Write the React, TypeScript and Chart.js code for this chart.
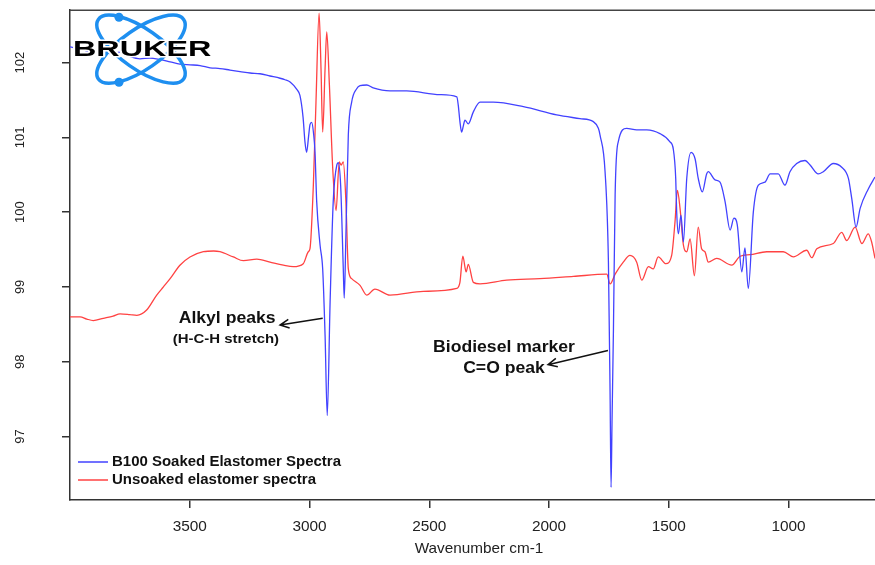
import React, { useEffect, useRef } from "react";
import { Chart, registerables } from "chart.js";
Chart.register(...registerables);

const seriesLabels = ["B100 Soaked Elastomer Spectra", "Unsoaked elastomer spectra"];
const seriesColors = ["#4242ff", "#ff4242"];

const blueWavenumbers = [
  4000, 3958, 3896, 3875, 3833, 3791, 3749, 3708, 3666, 3624, 3582, 3541, 3499, 3457, 3415, 3374, 3332, 3290,
  3248, 3207, 3165, 3123, 3102, 3081, 3053, 3040, 3027, 3019, 3012, 3004, 2998, 2991, 2983, 2977, 2970, 2956,
  2945, 2935, 2926, 2914, 2901, 2886, 2880, 2870, 2859, 2855, 2848, 2838, 2824, 2803, 2789, 2761, 2734, 2664,
  2594, 2455, 2385, 2379, 2372, 2365, 2358, 2351, 2337, 2316, 2288, 2233, 2107, 1968, 1871, 1815, 1794, 1787,
  1766, 1752, 1745, 1741, 1737, 1731, 1724, 1711, 1676, 1634, 1592, 1537, 1495, 1481, 1471, 1467, 1460, 1449,
  1439, 1425, 1407, 1390, 1377, 1360, 1342, 1335, 1307, 1286, 1265, 1244, 1228, 1214, 1195, 1182, 1168, 1147,
  1126, 1098, 1077, 1043, 1015, 994, 966, 931, 910, 876, 855, 813, 778, 750, 736, 718, 701, 667, 639,
];
const blueValues = [
  102.21, 102.18, 102.14, 102.17, 102.12, 102.14, 102.08, 102.05, 102.06, 102.04, 102.01, 101.98, 101.97, 101.96,
  101.93, 101.92, 101.9, 101.88, 101.86, 101.85, 101.82, 101.79, 101.77, 101.74, 101.64, 101.56, 101.27, 100.94,
  100.8, 101.01, 101.17, 101.2, 101.05, 100.8, 100.14, 99.56, 99.24, 98.35, 97.28, 98.8, 100.14, 100.63, 100.66,
  100.36, 99.24, 98.85, 99.69, 101.03, 101.47, 101.65, 101.69, 101.7, 101.66, 101.62, 101.62, 101.57, 101.54,
  101.43, 101.21, 101.07, 101.15, 101.23, 101.18, 101.34, 101.47, 101.47, 101.41, 101.3, 101.25, 101.21, 101.12,
  101.03, 100.54, 99.33, 97.55, 96.32, 97.19, 98.44, 100.23, 100.94, 101.12, 101.1, 101.1, 101.05, 100.94,
  100.84, 100.45, 100.0, 99.71, 99.96, 99.6, 100.45, 100.8, 100.71, 100.45, 100.27, 100.51, 100.54, 100.43,
  100.4, 100.14, 99.76, 99.92, 99.83, 99.2, 99.52, 98.98, 100.0, 100.36, 100.4, 100.51, 100.51, 100.36, 100.54,
  100.65, 100.69, 100.63, 100.51, 100.54, 100.65, 100.6, 100.45, 100.18, 99.8, 100.05, 100.31, 100.47,
];

const redWavenumbers = [
  4000, 3958, 3930, 3903, 3861, 3820, 3791, 3750, 3721, 3680, 3638, 3610, 3582, 3541, 3499, 3443, 3400, 3374,
  3318, 3276, 3220, 3165, 3109, 3068, 3026, 3005, 2998, 2984, 2973, 2960, 2952, 2945, 2935, 2928, 2917, 2903,
  2889, 2876, 2868, 2859, 2848, 2838, 2824, 2789, 2761, 2727, 2664, 2525, 2385, 2372, 2360, 2346, 2337, 2316,
  2288, 2177, 2038, 1898, 1759, 1745, 1724, 1690, 1662, 1634, 1613, 1585, 1565, 1544, 1512, 1488, 1474, 1464,
  1453, 1439, 1425, 1411, 1393, 1377, 1363, 1349, 1335, 1300, 1237, 1202, 1161, 1091, 1022, 980, 924, 903, 882,
  813, 778, 757, 722, 694, 667, 653, 639,
];
const redValues = [
  98.6, 98.6, 98.57, 98.55, 98.58, 98.61, 98.64, 98.63, 98.62, 98.69, 98.89, 99.0, 99.11, 99.29, 99.4, 99.47,
  99.48, 99.47, 99.4, 99.35, 99.37, 99.33, 99.29, 99.27, 99.31, 99.47, 99.51, 100.36, 101.47, 102.66, 101.92,
  101.07, 101.92, 102.41, 101.7, 100.58, 100.02, 100.67, 100.63, 100.67, 100.14, 99.24, 99.11, 99.02, 98.89,
  98.97, 98.89, 98.94, 98.98, 99.06, 99.41, 99.2, 99.3, 99.06, 99.04, 99.09, 99.11, 99.14, 99.17, 99.04, 99.17,
  99.33, 99.42, 99.33, 99.09, 99.27, 99.24, 99.4, 99.31, 99.42, 99.87, 100.29, 100.05, 99.56, 99.47, 99.64,
  99.15, 99.8, 99.51, 99.47, 99.33, 99.38, 99.29, 99.41, 99.43, 99.47, 99.47, 99.4, 99.49, 99.39, 99.51, 99.58,
  99.73, 99.62, 99.8, 99.58, 99.71, 99.6, 99.38,
];

const xTickValues = [3500, 3000, 2500, 2000, 1500, 1000];
const yTickValues = [97, 98, 99, 100, 101, 102];
const xAxisTitle = "Wavenumber cm-1";

// annotation texts: [text, wavenumber, value, font, stretch]
const annotationTexts: [string, number, number, string, number][] = [
  ["Alkyl peaks", 3344, 98.57, "bold 16px 'Liberation Sans', Arial, sans-serif", 1.1],
  ["(H-C-H stretch)", 3349, 98.3, "bold 13px 'Liberation Sans', Arial, sans-serif", 1.15],
  ["Biodiesel marker", 2188, 98.19, "bold 16px 'Liberation Sans', Arial, sans-serif", 1.1],
  ["C=O peak", 2188, 97.91, "bold 16px 'Liberation Sans', Arial, sans-serif", 1.1],
];
// arrows: [fromW, fromV, toW, toV]
const annotationArrows: [number, number, number, number][] = [
  [2945, 98.58, 3123, 98.49],
  [1754, 98.15, 2004, 97.96],
];

const FONT = "'Liberation Sans', Arial, sans-serif";

function drawText(
  ctx: CanvasRenderingContext2D,
  text: string,
  x: number,
  y: number,
  font: string,
  align: CanvasTextAlign,
  stretch = 1,
  color = "#1a1a1a"
) {
  ctx.save();
  ctx.font = font;
  ctx.fillStyle = color;
  ctx.textAlign = align;
  ctx.textBaseline = "middle";
  ctx.translate(x, y);
  ctx.scale(stretch, 1);
  ctx.fillText(text, 0, 0);
  ctx.restore();
}

const overlayPlugin = {
  id: "overlay",
  afterDraw(chart: any) {
    const ctx: CanvasRenderingContext2D = chart.ctx;
    const area = chart.chartArea;
    const xs = chart.scales.x;
    const ys = chart.scales.y;

    // top border
    ctx.save();
    ctx.strokeStyle = "#444";
    ctx.lineWidth = 1.5;
    ctx.beginPath();
    ctx.moveTo(area.left, area.top);
    ctx.lineTo(area.right, area.top);
    ctx.stroke();
    ctx.restore();

    // y tick labels (rotated)
    yTickValues.forEach((v) => {
      const py = ys.getPixelForValue(v);
      ctx.save();
      ctx.translate(area.left - 50, py);
      ctx.rotate(-Math.PI / 2);
      ctx.font = `13px ${FONT}`;
      ctx.fillStyle = "#222";
      ctx.textAlign = "center";
      ctx.textBaseline = "middle";
      ctx.fillText(String(v), 0, 0);
      ctx.restore();
    });

    // x tick labels
    xTickValues.forEach((v) => {
      const px = xs.getPixelForValue(v);
      drawText(ctx, String(v), px, area.bottom + 27, `14px ${FONT}`, "center", 1.1, "#222");
    });

    // x axis title
    drawText(ctx, xAxisTitle, area.left + 409, area.bottom + 49, `15px ${FONT}`, "center", 1.02, "#222");

    // annotations
    annotationTexts.forEach(([t, w, v, f, s]) => {
      drawText(ctx, t, xs.getPixelForValue(w), ys.getPixelForValue(v), f, "center", s, "#111");
    });
    annotationArrows.forEach(([w1, v1, w2, v2]) => {
      const x1 = xs.getPixelForValue(w1);
      const y1 = ys.getPixelForValue(v1);
      const x2 = xs.getPixelForValue(w2);
      const y2 = ys.getPixelForValue(v2);
      const ang = Math.atan2(y2 - y1, x2 - x1);
      const hl = 10;
      ctx.save();
      ctx.strokeStyle = "#111";
      ctx.lineWidth = 1.5;
      ctx.beginPath();
      ctx.moveTo(x1, y1);
      ctx.lineTo(x2, y2);
      ctx.moveTo(x2 - hl * Math.cos(ang - 0.45), y2 - hl * Math.sin(ang - 0.45));
      ctx.lineTo(x2, y2);
      ctx.lineTo(x2 - hl * Math.cos(ang + 0.45), y2 - hl * Math.sin(ang + 0.45));
      ctx.stroke();
      ctx.restore();
    });

    // legend
    chart.data.datasets.forEach((ds: any, i: number) => {
      const ly = area.bottom - 38 + i * 18;
      ctx.save();
      ctx.strokeStyle = ds.borderColor;
      ctx.lineWidth = 1.5;
      ctx.beginPath();
      ctx.moveTo(area.left + 8, ly);
      ctx.lineTo(area.left + 38, ly);
      ctx.stroke();
      ctx.restore();
      drawText(ctx, ds.label, area.left + 42, ly, `bold 14px ${FONT}`, "left", 1.07, "#111");
    });

    // logo
    const cx = area.left + 71;
    const cy = area.top + 39;
    ctx.save();
    ctx.strokeStyle = "#1e8ff0";
    ctx.fillStyle = "#1e8ff0";
    ctx.lineWidth = 3.5;
    [0.61, -0.61].forEach((a) => {
      ctx.beginPath();
      ctx.ellipse(cx, cy, 52, 20, a, 0, Math.PI * 2);
      ctx.stroke();
    });
    ctx.beginPath();
    ctx.arc(cx - 22, cy - 32, 4.5, 0, Math.PI * 2);
    ctx.fill();
    ctx.beginPath();
    ctx.arc(cx - 22, cy + 33, 4.5, 0, Math.PI * 2);
    ctx.fill();
    ctx.restore();
    ctx.save();
    ctx.translate(area.left + 3, cy + 1);
    ctx.scale(1.47, 1);
    ctx.font = `900 22px ${FONT}`;
    ctx.textAlign = "left";
    ctx.textBaseline = "middle";
    ctx.lineJoin = "round";
    ctx.strokeStyle = "#fff";
    ctx.lineWidth = 3;
    ctx.strokeText("BRUKER", 0, 0);
    ctx.fillStyle = "#000";
    ctx.fillText("BRUKER", 0, 0);
    ctx.restore();
  },
};

export default function App() {
  const ref = useRef<HTMLCanvasElement | null>(null);
  useEffect(() => {
    document.body.style.margin = "0";
    const canvas = ref.current;
    if (!canvas) return;
    const axisCommon = {
      grid: { display: true, drawOnChartArea: false, drawTicks: true, tickLength: 8, color: "#333", lineWidth: 1.5 },
      border: { display: true, color: "#333", width: 1.5 },
    };
    const chart = new Chart(canvas, {
      type: "line",
      data: {
        datasets: [
          {
            label: seriesLabels[0],
            data: blueWavenumbers.map((w, i) => ({ x: w, y: blueValues[i] })),
            borderColor: seriesColors[0],
            borderWidth: 1.3,
            pointRadius: 0,
            cubicInterpolationMode: "monotone",
          },
          {
            label: seriesLabels[1],
            data: redWavenumbers.map((w, i) => ({ x: w, y: redValues[i] })),
            borderColor: seriesColors[1],
            borderWidth: 1.3,
            pointRadius: 0,
            cubicInterpolationMode: "monotone",
          },
        ],
      },
      options: {
        animation: false,
        responsive: false,
        maintainAspectRatio: false,
        layout: { padding: { top: 8, right: 0, left: 0, bottom: 0 } },
        plugins: { legend: { display: false }, tooltip: { enabled: false } },
        scales: {
          x: {
            type: "linear",
            reverse: true,
            min: 639,
            max: 4000,
            afterBuildTicks: (s: any) => {
              s.ticks = xTickValues.map((v) => ({ value: v }));
            },
            afterFit: (s: any) => {
              s.height = 65;
            },
            ticks: { color: "rgba(0,0,0,0)", autoSkip: false, maxRotation: 0, font: { size: 12 } },
            ...axisCommon,
          },
          y: {
            type: "linear",
            min: 96.15,
            max: 102.7,
            afterBuildTicks: (s: any) => {
              s.ticks = yTickValues.map((v) => ({ value: v }));
            },
            afterFit: (s: any) => {
              s.width = 70;
            },
            ticks: { color: "rgba(0,0,0,0)", font: { size: 12 } },
            ...axisCommon,
          },
        },
      } as any,
      plugins: [overlayPlugin],
    });
    return () => chart.destroy();
  }, []);
  return (
    <div style={{ width: 875, height: 565 }}>
      <canvas ref={ref} width={875} height={565} style={{ display: "block" }} />
    </div>
  );
}
